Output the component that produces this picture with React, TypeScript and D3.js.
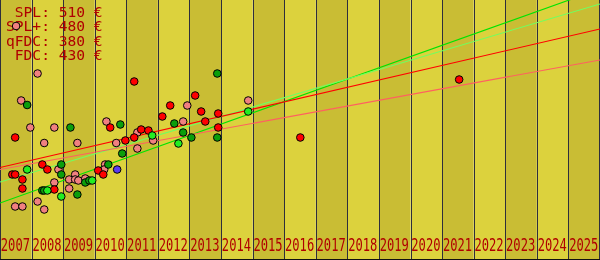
import React from "react";
import * as d3 from "d3";

const W = 600;
const H = 260;

const years = d3.range(2007, 2026);

// legend
const legendLines = [" SPL: 510 €", "SPL+: 480 €", "qFDC: 380 €", " FDC: 430 €"];

// trend lines: value at 2007.0 and 2026.0 (€)
const trendNames = ["SPL", "SPL+", "qFDC", "FDC"];
const trendStart = [82, 124, 149, 153];
const trendEnd = [510, 480, 368, 430];
const trendColors = ["#00e400", "#70ff60", "#ff6060", "#ff0000"];

// points: decimal year, value (€)
const fdcYears = [2007.48, 2010.49, 2010.97, 2008.34, 2008.5, 2010.11, 2010.27, 2007.39, 2007.48, 2007.71, 2007.71, 2008.72, 2011.25, 2013.18, 2012.39, 2012.14, 2013.37, 2013.91, 2013.5, 2011.47, 2011.7, 2013.91, 2011.25, 2021.54, 2016.51];
const fdcValues = [213, 233, 207, 159, 149, 147, 139, 139, 139, 129, 111, 109, 325, 297, 277, 255, 265, 261, 245, 229, 227, 233, 213, 329, 213];

const qfdcYears = [2007.51, 2008.19, 2007.67, 2007.96, 2008.72, 2010.37, 2008.4, 2009.45, 2010.68, 2008.85, 2009.38, 2010.33, 2010.3, 2008.72, 2009.19, 2009.38, 2009.48, 2009.7, 2009.19, 2008.19, 2007.48, 2007.71, 2008.4, 2012.93, 2014.86, 2012.8, 2011.35, 2011.85, 2011.35];
const qfdcValues = [436, 341, 287, 233, 233, 245, 202, 202, 202, 149, 139, 159, 149, 123, 129, 129, 127, 131, 111, 85, 75, 75, 69, 277, 287, 245, 223, 207, 191];

const splYears = [2007.86, 2009.23, 2010.81, 2010.87, 2008.94, 2008.94, 2010.43, 2009.7, 2009.83, 2008.34, 2008.4, 2009.45, 2013.88, 2012.52, 2012.8, 2013.06, 2013.88];
const splValues = [278, 233, 239, 181, 159, 139, 159, 123, 127, 107, 107, 99, 341, 241, 223, 213, 213];

const splPlusYears = [2007.86, 2009.92, 2008.5, 2008.94, 2014.86, 2011.82, 2012.65];
const splPlusValues = [149, 127, 107, 95, 265, 217, 201];

const otherYears = [2010.71];
const otherValues = [149];

const pointSeries = [
  { ys: qfdcYears, vs: qfdcValues, color: "#f08080" },
  { ys: fdcYears, vs: fdcValues, color: "#ff0000" },
  { ys: splYears, vs: splValues, color: "#0b9e0b" },
  { ys: splPlusYears, vs: splPlusValues, color: "#22ee22" },
  { ys: otherYears, vs: otherValues, color: "#5a3cf0" },
];

export default function App() {
  const x = d3.scaleLinear().domain([2007, 2026]).range([0, W]);
  const y = d3.scaleLinear().domain([-32, 488]).range([H, 0]);
  const line = d3
    .line<[number, number]>()
    .x((d) => x(d[0]))
    .y((d) => y(d[1]));

  const textColor = "#b00000";
  const mono = "'DejaVu Sans Mono', monospace";

  return (
    <svg
      width={W}
      height={H}
      style={{ position: "fixed", left: 0, top: 0, display: "block" }}
    >
      <defs>
        <clipPath id="plot">
          <rect x={0} y={0} width={W} height={H} />
        </clipPath>
      </defs>
      {years.map((yr) => (
        <rect
          key={"s" + yr}
          x={x(yr)}
          y={0}
          width={x(yr + 1) - x(yr)}
          height={H}
          fill={yr % 2 === 1 ? "#c9bd34" : "#dcd23d"}
        />
      ))}
      {years.slice(1).map((yr) => (
        <line
          key={"g" + yr}
          x1={Math.round(x(yr)) + 0.5}
          x2={Math.round(x(yr)) + 0.5}
          y1={0}
          y2={H}
          stroke="#2e2e3c"
          strokeWidth={1}
        />
      ))}
      <line x1={0.5} x2={0.5} y1={0} y2={H} stroke="#2e2e3c" />
      <line x1={W - 0.5} x2={W - 0.5} y1={0} y2={H} stroke="#2e2e3c" />
      <line x1={0} x2={W} y1={H - 0.5} y2={H - 0.5} stroke="#111" />

      {years.map((yr) => (
        <text
          key={"t" + yr}
          x={x(yr) + 0.8}
          y={250.5}
          fontFamily={mono}
          fontSize={18}
          fill={textColor}
          textLength={x(yr + 1) - x(yr) - 2.4}
          lengthAdjust="spacingAndGlyphs"
        >
          {yr}
        </text>
      ))}

      {legendLines.map((t, i) => (
        <text
          key={"l" + i}
          x={6}
          y={17 + i * 14.3}
          fontFamily={mono}
          fontSize={14.6}
          fill={textColor}
          style={{ whiteSpace: "pre" }}
        >
          {t}
        </text>
      ))}

      <g clipPath="url(#plot)">
        {trendNames.map((n, i) => (
          <path
            key={"tr" + n}
            d={line([
              [2007, trendStart[i]],
              [2026, trendEnd[i]],
            ]) || ""}
            fill="none"
            stroke={trendColors[i]}
            strokeWidth={1.1}
          />
        ))}
      </g>

      {pointSeries.map((s, si) =>
        s.ys.map((yr, i) => (
          <circle
            key={"p" + si + "-" + i}
            cx={x(yr)}
            cy={y(s.vs[i])}
            r={3.8}
            fill={s.color}
            stroke="#000"
            strokeWidth={1}
          />
        ))
      )}
    </svg>
  );
}
